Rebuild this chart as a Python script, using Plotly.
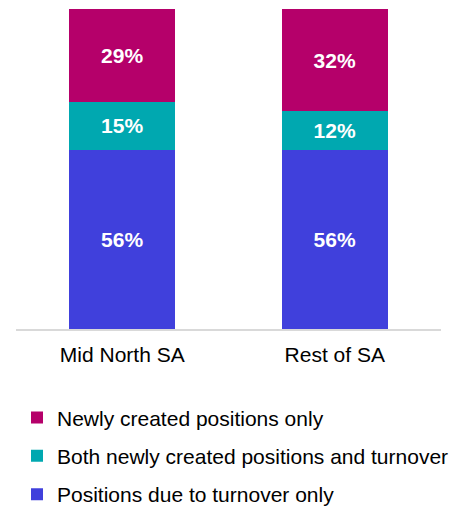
import plotly.graph_objects as go

categories = ["Mid North SA", "Rest of SA"]
series_names = ["Positions due to turnover only",
                "Both newly created positions and turnover",
                "Newly created positions only"]
turnover_only = [56, 56]
both = [15, 12]
newly_only = [29, 32]
colors = ["#4040DC", "#00A8B0", "#B5006A"]
legend_ranks = [3, 2, 1]

# page body has an 8px margin, so the figure is drawn at (8, 8)
W, H = 456, 498
ML, MR, MT, MB = 8, 23, 1, 176.5
plot_w = W - ML - MR
plot_h = H - MT - MB

fig = go.Figure()
for name, vals, col, rank in zip(series_names, [turnover_only, both, newly_only], colors, legend_ranks):
    fig.add_trace(go.Bar(
        x=categories, y=vals, name=name, legendgroup=name, legendrank=rank,
        marker=dict(color=col, line=dict(width=0)),
        text=[f"{v}%" for v in vals], textposition="inside",
        insidetextanchor="middle", textangle=0,
        textfont=dict(family="Liberation Sans, Arial", size=21, color="white", weight="bold"),
        hoverinfo="skip",
    ))

fig.update_layout(
    width=W, height=H, barmode="stack", bargap=0.5,
    margin=dict(l=ML, r=MR, t=MT, b=MB, autoexpand=False),
    paper_bgcolor="white", plot_bgcolor="white",
    font=dict(family="Liberation Sans, Arial", size=21, color="black"),
    xaxis=dict(showline=True, linecolor="#D9D9D9", linewidth=1.5, ticks="",
               ticklabelstandoff=6, tickfont=dict(size=21, color="black"),
               showgrid=False, zeroline=False, automargin=False),
    yaxis=dict(range=[0, 100], visible=False, showgrid=False, zeroline=False,
               automargin=False),
    legend=dict(orientation="v", traceorder="grouped",
                x=(9 - ML) / plot_w, y=-(390 - (H - MB)) / plot_h,
                xanchor="left", yanchor="top",
                font=dict(size=21, color="black"), tracegroupgap=8,
                bgcolor="rgba(0,0,0,0)"),
)
fig.write_html("out.html")
